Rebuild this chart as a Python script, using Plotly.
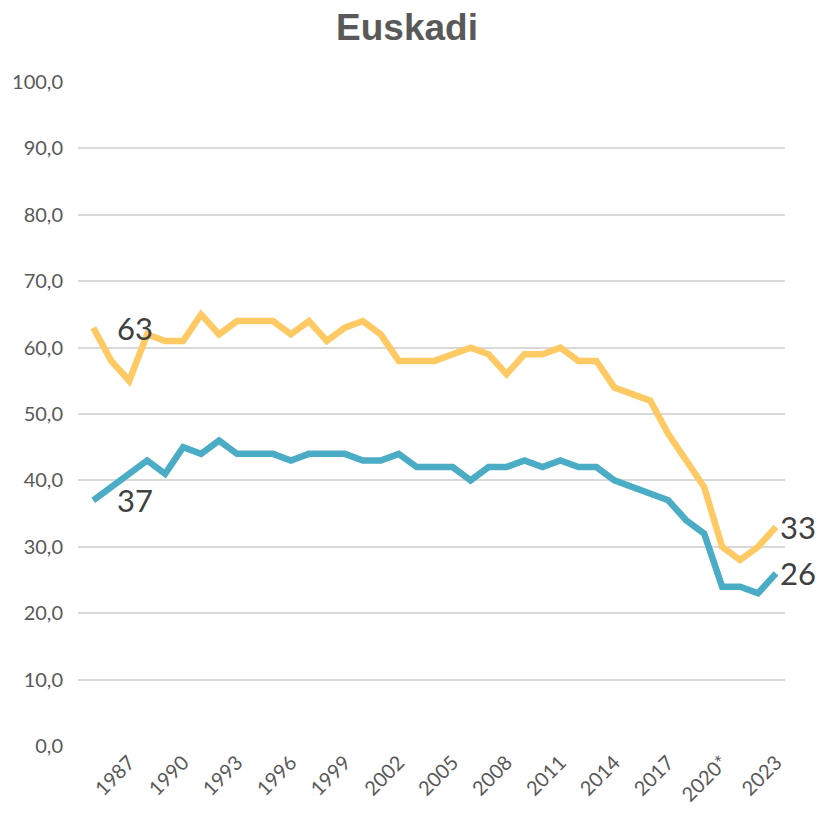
import plotly.graph_objects as go

years = list(range(1985, 2024))
serie_amarilla = [63, 58, 55, 62, 61, 61, 65, 62, 64, 64, 64, 62, 64, 61, 63, 64, 62, 58, 58, 58,
                  59, 60, 59, 56, 59, 59, 60, 58, 58, 54, 53, 52, 47, 43, 39, 30, 28, 30, 33]
serie_azul = [37, 39, 41, 43, 41, 45, 44, 46, 44, 44, 44, 43, 44, 44, 44, 43, 43, 44, 42, 42,
              42, 40, 42, 42, 43, 42, 43, 42, 42, 40, 39, 38, 37, 34, 32, 24, 24, 23, 26]
tick_years = [1987, 1990, 1993, 1996, 1999, 2002, 2005, 2008, 2011, 2014, 2017, 2020, 2023]
tick_text = ["1987", "1990", "1993", "1996", "1999", "2002", "2005", "2008", "2011", "2014", "2017", "2020*", "2023"]
y_ticks = [0, 10, 20, 30, 40, 50, 60, 70, 80, 90, 100]

YELLOW = "#FFC963"
BLUE = "#4BACC6"

fig = go.Figure()
fig.add_trace(go.Scatter(x=years, y=serie_amarilla, mode="lines",
                         line=dict(color=YELLOW, width=6.5), hoverinfo="skip", showlegend=False))
fig.add_trace(go.Scatter(x=years, y=serie_azul, mode="lines",
                         line=dict(color=BLUE, width=6.5), hoverinfo="skip", showlegend=False))

lab_font = dict(family="Lato, Carlito, sans-serif", size=31, color="#404040")
annots = [
    (years[0], serie_amarilla[0], 22),
    (years[0], serie_azul[0], 22),
    (years[-1], serie_amarilla[-1], 2),
    (years[-1], serie_azul[-1], 2),
]
for x, y, xs in annots:
    fig.add_annotation(x=x, y=y, text=str(y), showarrow=False, xanchor="left", yanchor="middle",
                       xshift=xs, font=lab_font)

fig.update_layout(
    width=818, height=817,
    margin=dict(l=78, r=33, t=82, b=71, autoexpand=False),
    paper_bgcolor="white", plot_bgcolor="white",
    separators=",.",
    title=dict(text="<b>Euskadi</b>", x=407 / 818, xanchor="center", y=1 - 27 / 817, yanchor="middle",
               font=dict(family="Liberation Sans, Arial, sans-serif", size=37, color="#595959")),
    font=dict(family="Lato, Carlito, sans-serif", color="#595959"),
)
fig.update_xaxes(range=[1984.15, 2023.5], tickmode="array", tickvals=tick_years, ticktext=tick_text,
                 tickangle=-45, tickfont=dict(size=20, color="#595959"), showgrid=False,
                 zeroline=False, showline=False, ticks="", automargin=False)
fig.update_yaxes(range=[0, 100], tickmode="array", tickvals=y_ticks, tickformat=".1f",
                 tickfont=dict(size=20, color="#595959"), showgrid=True, gridcolor="#D9D9D9",
                 gridwidth=1.5, zeroline=False, showline=False, ticks="", ticklabelstandoff=14,
                 automargin=False)

fig.write_html("out.html", config={"displayModeBar": False},
               post_script="document.body.style.margin='0';document.body.style.overflow='hidden';")
